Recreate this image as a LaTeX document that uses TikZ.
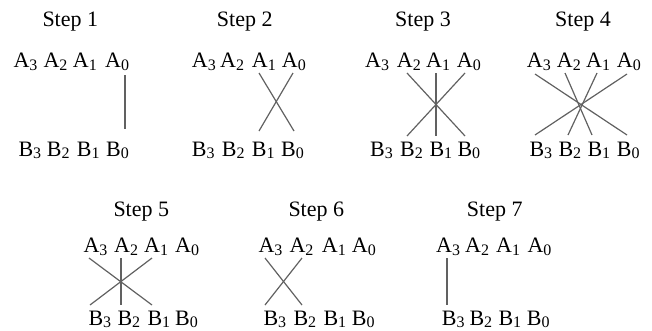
\documentclass[tikz,border=0pt]{standalone}
\usepackage{fontspec}
\setmainfont{Liberation Serif}
\newcommand\lsub[2]{#1\raisebox{-2.8pt}{\fontsize{16}{16}\selectfont #2}}
\newcommand\rowAB[4]{% #1 name prefix, #2 letter, #3 baseline, #4 list of x (3,2,1,0)
  \foreach \xx [count=\i from 0] in {#4} {
    \pgfmathtruncatemacro\dig{3-\i}
    \node[lbl] (#1\dig) at (\xx,#3) {\lsub{#2}{\dig}};
  }}
\begin{document}
\begin{tikzpicture}[x=1pt,y=-1pt,
  lbl/.style={anchor=base west, inner sep=0pt, font=\fontsize{22}{24}\selectfont},
  wire/.style={draw=black!62, line width=1.2pt}]
\useasboundingbox (0,0) rectangle (652,330);

% step titles
\node[lbl] (t1) at (42.3,26.5) {Step 1};
\node[lbl] (t2) at (216.7,26.5) {Step 2};
\node[lbl] (t3) at (395,26.5) {Step 3};
\node[lbl] (t4) at (555,26.5) {Step 4};
\node[lbl] (t5) at (113.3,216.7) {Step 5};
\node[lbl] (t6) at (288.3,216.7) {Step 6};
\node[lbl] (t7) at (466.7,216.7) {Step 7};

% letter rows
\rowAB{sOneA}{A}{67.5}{13.3,43.3,72.7,105}
\rowAB{sOneB}{B}{156}{18.3,46.7,76.7,106}
\rowAB{sTwoA}{A}{67.5}{191.7,220,251.7,281.7}
\rowAB{sTwoB}{B}{156}{191.7,221.7,251.7,281}
\rowAB{sThrA}{A}{67.5}{365,396.7,426,456.7}
\rowAB{sThrB}{B}{156}{370,400,429.3,457.3}
\rowAB{sFouA}{A}{67.5}{526.7,556.7,586,616.7}
\rowAB{sFouB}{B}{156}{529.3,558.3,587.3,616.7}
\rowAB{sFivA}{A}{252.5}{83.3,114,144,175}
\rowAB{sFivB}{B}{325}{88.3,117.3,147.3,175}
\rowAB{sSixA}{A}{252.5}{258.3,289.3,321.7,351.7}
\rowAB{sSixB}{B}{325}{263.3,293.3,323.3,351.7}
\rowAB{sSevA}{A}{252.5}{436,465,496,527.3}
\rowAB{sSevB}{B}{325}{441.7,469.3,498.3,526.7}

% line end points
\coordinate (p1a) at (125,75);  \coordinate (p1b) at (125,129);

\coordinate (p2a) at (259,73);  \coordinate (p2b) at (294,131);
\coordinate (p2c) at (293,73);  \coordinate (p2d) at (259,131);

\coordinate (p3a) at (407,73);  \coordinate (p3b) at (465,136);
\coordinate (p3c) at (465,73);  \coordinate (p3d) at (407,136);
\coordinate (p3e) at (436,73);  \coordinate (p3f) at (436,136);

\coordinate (p4a) at (535,74);  \coordinate (p4b) at (627,135);
\coordinate (p4c) at (627,74);  \coordinate (p4d) at (535,135);
\coordinate (p4e) at (565,73);  \coordinate (p4f) at (592,135);
\coordinate (p4g) at (597,73);  \coordinate (p4h) at (568,135);

\coordinate (p5a) at (89,258);  \coordinate (p5b) at (152,305);
\coordinate (p5c) at (152,258); \coordinate (p5d) at (90,305);
\coordinate (p5e) at (121,258); \coordinate (p5f) at (121,305);

\coordinate (p6a) at (265,258); \coordinate (p6b) at (302,305);
\coordinate (p6c) at (302,258); \coordinate (p6d) at (265,305);

\coordinate (p7a) at (447,258); \coordinate (p7b) at (447,305);

\draw[wire, line width=1.6pt] (p1a) -- (p1b);
\draw[wire] (p2a) -- (p2b);
\draw[wire] (p2c) -- (p2d);
\draw[wire] (p3a) -- (p3b);
\draw[wire] (p3c) -- (p3d);
\draw[wire] (p3e) -- (p3f);
\draw[wire] (p4a) -- (p4b);
\draw[wire] (p4c) -- (p4d);
\draw[wire] (p4e) -- (p4f);
\draw[wire] (p4g) -- (p4h);
\draw[wire] (p5a) -- (p5b);
\draw[wire] (p5c) -- (p5d);
\draw[wire, line width=1.4pt] (p5e) -- (p5f);
\draw[wire] (p6a) -- (p6b);
\draw[wire] (p6c) -- (p6d);
\draw[wire, line width=1.6pt] (p7a) -- (p7b);
\end{tikzpicture}
\end{document}
